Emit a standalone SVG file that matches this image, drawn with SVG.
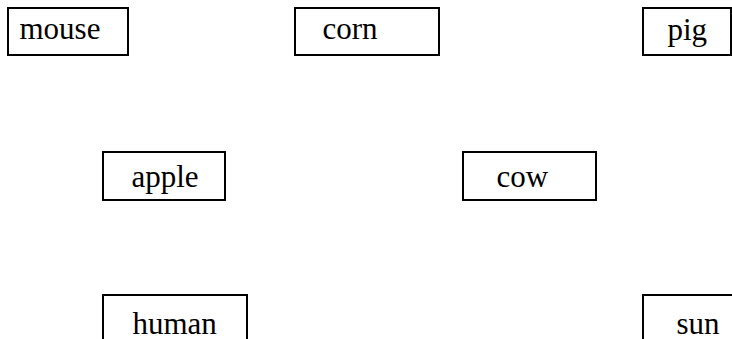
<svg xmlns="http://www.w3.org/2000/svg" width="732" height="339" viewBox="0 0 732 339">
<style>
.box{fill:#fff;stroke:#000;stroke-width:2}
.lbl{font-family:"Liberation Serif","Times New Roman",serif;font-size:31px;fill:#000}
</style>
<rect width="732" height="339" fill="#fff"/>
<g id="mouse"><rect class="box" x="8" y="8" width="120" height="47"/><text class="lbl" x="19.5" y="39">mouse</text></g>
<g id="corn"><rect class="box" x="295" y="8" width="144" height="47"/><text class="lbl" x="322.5" y="39">corn</text></g>
<g id="pig"><rect class="box" x="643" y="8" width="88" height="47"/><text class="lbl" x="667.5" y="39.5">pig</text></g>
<g id="apple"><rect class="box" x="103" y="152" width="122" height="48"/><text class="lbl" x="131.5" y="187">apple</text></g>
<g id="cow"><rect class="box" x="463" y="152" width="133" height="48"/><text class="lbl" x="496.5" y="187">cow</text></g>
<g id="human"><rect class="box" x="103" y="295" width="144" height="60"/><text class="lbl" x="132.5" y="334">human</text></g>
<g id="sun"><rect class="box" x="643" y="295" width="100" height="60"/><text class="lbl" x="676.5" y="334">sun</text></g>
<g id="connectors"></g>
</svg>
